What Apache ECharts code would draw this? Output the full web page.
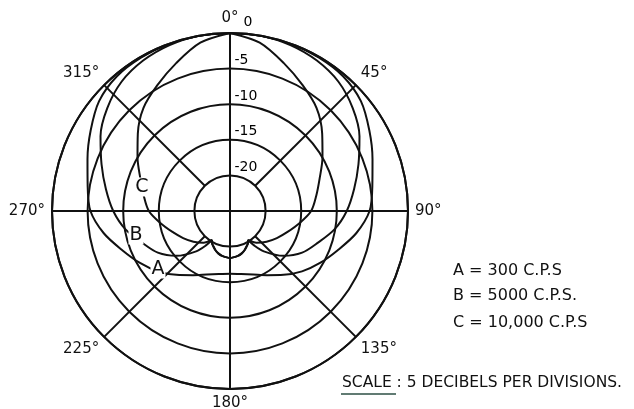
<!DOCTYPE html>
<html>
<head>
<meta charset="utf-8">
<script src="https://cdn.jsdelivr.net/npm/echarts@6/dist/echarts.min.js"></script>
<style>
html,body{margin:0;padding:0;background:#fff;}
#chart{width:634px;height:409px;}
</style>
</head>
<body>
<div id="chart"></div>
<script>
// Radial scale (dB) labels shown along the 0° spoke
const radiusTicks = [-20, -15, -10, -5, 0];

// Curve A = 300 C.P.S  (angle in degrees, level in dB)
const curveAAngles = [0, 10, 20, 30, 40, 50, 60, 70, 80, 90, 100, 110, 120, 130, 140, 150, 160, 170, 180,
                      190, 200, 210, 220, 230, 240, 250, 260, 270, 280, 290, 300, 310, 320, 330, 340, 350, 360];
const curveADb     = [0, 0, 0, -0.1, -0.3, -1.0, -2.4, -3.7, -4.7, -5.4, -7.0, -8.9, -10.4, -11.8, -13.3, -14.6, -15.5, -16.0, -16.2,
                      -16.0, -15.5, -14.6, -13.3, -11.8, -10.4, -8.9, -7.0, -5.4, -4.7, -3.7, -2.4, -1.0, -0.3, -0.1, 0, 0, 0];

// Curve B = 5000 C.P.S.
const curveBAngles = [0, 10, 20, 30, 40, 50, 60, 70, 80, 90, 100, 110, 120, 130, 140, 145, 148, 150, 155, 160, 165, 170, 180,
                      190, 195, 200, 205, 210, 212, 215, 220, 230, 240, 250, 260, 270, 280, 290, 300, 310, 320, 330, 340, 350, 360];
const curveBDb     = [0, 0, -0.2, -0.6, -1.3, -2.5, -4.0, -5.8, -7.3, -8.6, -10.1, -11.9, -13.3, -15.2, -17.6, -19.1, -20.2, -19.9, -19.5, -19.1, -18.8, -18.6, -18.4,
                      -18.6, -18.8, -19.1, -19.5, -19.9, -20.2, -19.1, -17.6, -15.2, -13.3, -11.9, -10.1, -8.6, -7.3, -5.8, -4.0, -2.5, -1.3, -0.6, -0.2, 0, 0];

// Curve C = 10,000 C.P.S
const curveCAngles = [0, 10, 20, 30, 40, 50, 60, 70, 80, 90, 100, 110, 120, 130, 140, 148, 150, 155, 160, 165, 170, 180,
                      190, 195, 200, 205, 210, 212, 220, 230, 240, 250, 260, 270, 280, 290, 300, 310, 320, 330, 340, 350, 360];
const curveCDb     = [0, -1.0, -2.9, -4.6, -6.1, -8.1, -10.0, -11.6, -12.7, -13.6, -15.1, -16.4, -17.4, -18.3, -19.2, -20.2, -19.9, -19.5, -19.1, -18.8, -18.6, -18.4,
                      -18.6, -18.8, -19.1, -19.5, -19.9, -20.2, -19.2, -18.3, -17.4, -16.4, -15.1, -13.6, -12.7, -11.6, -10.0, -8.1, -6.1, -4.6, -2.9, -1.0, 0];

// Spokes of the grid: angle and inner end (dB)
const spokeAngles = [0, 45, 90, 135, 180, 225, 270, 315];
const spokeInner  = [-25, -20, -25, -20, -25, -20, -25, -20];

const INK = '#111111';
const FONT = '"DejaVu Sans", "Noto Sans", sans-serif';
const chart = echarts.init(document.getElementById('chart'), null, {renderer: 'canvas'});

function curve(name, angles, db) {
  return {
    name: name, type: 'line', coordinateSystem: 'polar',
    data: angles.map((a, i) => [db[i], a]),
    showSymbol: false, smooth: 0.3, silent: true, z: 3,
    lineStyle: {color: INK, width: 2}
  };
}

const spokeSeries = spokeAngles.map((a, i) => ({
  type: 'line', coordinateSystem: 'polar', silent: true, showSymbol: false, z: 2,
  data: [[spokeInner[i], a], [0, a]],
  lineStyle: {color: INK, width: 2}
}));

const radiusLabelSeries = {
  type: 'scatter', coordinateSystem: 'polar', silent: true, z: 5,
  symbolSize: 1,
  itemStyle: {color: 'rgba(0,0,0,0)'},
  data: radiusTicks.map(v => ({
    value: [v, 0],
    label: v === 0 ? {offset: [9, -11]} : {offset: [0, -8]}
  })),
  label: {
    show: true, position: 'right', distance: 4,
    color: '#000', opacity: 1, fontSize: 14, fontFamily: FONT,
    formatter: p => String(p.value[0])
  }
};

chart.setOption({
  animation: false,
  backgroundColor: '#ffffff',
  polar: {center: [230, 211], radius: 178},
  angleAxis: {
    type: 'value', min: 0, max: 360, interval: 45, startAngle: 90, clockwise: true,
    axisLine: {show: true, lineStyle: {color: INK, width: 2}},
    axisTick: {show: false},
    splitLine: {show: false},
    axisLabel: {
      margin: 7, color: INK, fontSize: 15, fontFamily: FONT,
      formatter: v => (v === 360 ? '' : v + '°')
    }
  },
  radiusAxis: {
    type: 'value', min: -25, max: 0, interval: 5,
    axisLine: {show: false}, axisTick: {show: false},
    splitLine: {show: true, lineStyle: {color: INK, width: 2}},
    axisLabel: {show: false}
  },
  series: [
    ...spokeSeries,
    curve('A', curveAAngles, curveADb),
    curve('B', curveBAngles, curveBDb),
    curve('C', curveCAngles, curveCDb),
    radiusLabelSeries
  ],
  graphic: [
    {type: 'text', x: 142, y: 187, z: 10, style: {text: 'C', fill: INK, font: '19px ' + FONT, align: 'center', verticalAlign: 'middle', backgroundColor: '#fff', padding: [0, 1]}},
    {type: 'text', x: 136, y: 235, z: 10, style: {text: 'B', fill: INK, font: '19px ' + FONT, align: 'center', verticalAlign: 'middle', backgroundColor: '#fff', padding: [0, 1]}},
    {type: 'text', x: 158, y: 269, z: 10, style: {text: 'A', fill: INK, font: '19px ' + FONT, align: 'center', verticalAlign: 'middle', backgroundColor: '#fff', padding: [0, 1]}},
    {type: 'text', x: 453, y: 271, style: {text: 'A = 300 C.P.S', fill: INK, font: '16px ' + FONT, verticalAlign: 'middle'}},
    {type: 'text', x: 453, y: 296, style: {text: 'B = 5000 C.P.S.', fill: INK, font: '16px ' + FONT, verticalAlign: 'middle'}},
    {type: 'text', x: 453, y: 323, style: {text: 'C = 10,000 C.P.S', fill: INK, font: '16px ' + FONT, verticalAlign: 'middle'}},
    {type: 'text', x: 342, y: 383, style: {text: 'SCALE : 5 DECIBELS PER DIVISIONS.', fill: INK, font: '15.5px ' + FONT, verticalAlign: 'middle'}},
    {type: 'line', shape: {x1: 341, y1: 394, x2: 396, y2: 394}, style: {stroke: '#2d4f45', lineWidth: 1.5}}
  ]
});
</script>
</body>
</html>
